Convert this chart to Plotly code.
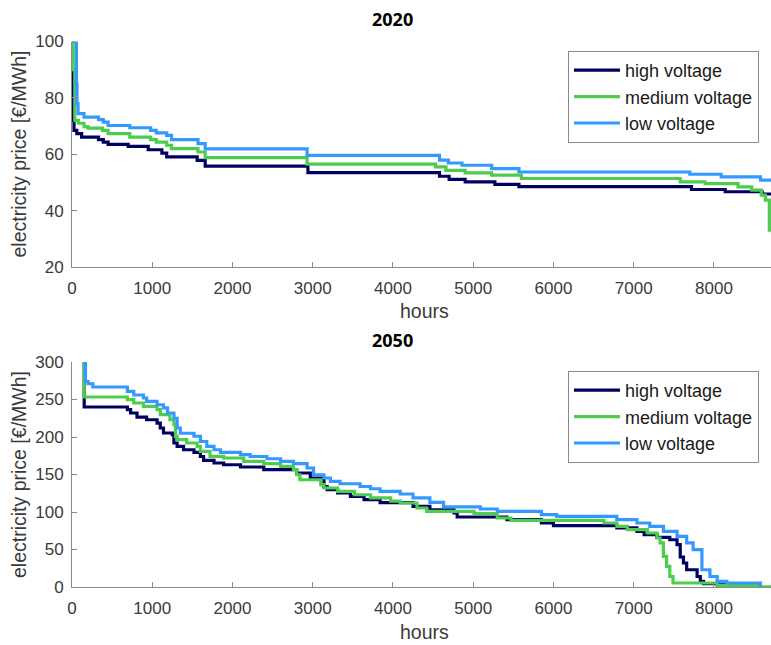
import plotly.graph_objects as go

# ---------------- data (price duration curves, step functions) ----------------
# 2020
hv20_h = [0, 5, 12, 25, 60, 120, 330, 390, 450, 700, 950, 1120, 1180, 1560, 1660, 2940,
          4580, 4700, 4900, 5270, 5570, 7720, 8140, 8600, 8711]
hv20_p = [97, 80, 72, 68.5, 67.3, 66.1, 65.2, 64.3, 63.5, 62.8, 61.6, 60.4, 59.1, 57.8, 55.8, 53.5,
          52.2, 51.1, 50.2, 49.3, 48.5, 47.5, 46.7, 45.9, 45.9]

mv20_h = [0, 15, 35, 80, 150, 200, 380, 450, 720, 980, 1050, 1180, 1240, 1570, 1660, 2930,
          4530, 4660, 4900, 5230, 5600, 7580, 7890, 8300, 8470, 8590, 8640, 8690, 8711]
mv20_p = [100, 90, 72, 71.0, 69.8, 69.3, 68.5, 67.3, 66.1, 65.2, 64.3, 63.2, 62.0, 60.8, 58.8, 56.5,
          55.5, 54.3, 53.4, 52.6, 51.4, 50.2, 49.6, 48.4, 47.3, 45.5, 43.7, 33.1, 33.1]

lv20_h = [0, 55, 62, 75, 150, 330, 390, 450, 720, 980, 1050, 1180, 1240, 1570, 1660, 2930,
          4580, 4690, 4860, 5230, 5570, 7700, 8090, 8580, 8711]
lv20_p = [100, 85, 78, 74.4, 73.2, 72.3, 71.4, 70.2, 69.4, 68.5, 67.6, 66.7, 65.2, 63.8, 61.9, 59.6,
          57.9, 56.9, 56.1, 54.9, 53.7, 52.9, 52.0, 50.8, 50.8]

# 2050
hv50_h = [150, 152, 690, 730, 810, 930, 1060, 1100, 1140, 1250, 1270, 1310, 1390, 1520, 1600, 1640,
          1770, 1890, 2100, 2390, 2800, 2970, 3140, 3180, 3310, 3470, 3640, 3840, 4250, 4460, 4760,
          4800, 5420, 5850, 6000, 6790, 7040, 7130, 7290, 7450, 7540, 7580, 7620, 7660, 7790, 7830,
          7870, 8040, 8420]
hv50_p = [300, 240, 236.4, 232, 226.6, 223, 218.6, 212, 205.3, 203, 192, 187.5, 183, 179.5, 174, 168.8,
          165.3, 163, 160, 156.4, 152, 145.3, 134, 129.7, 125.3, 120.8, 116.4, 112.5, 107.5, 103, 98.7,
          93.3, 89.7, 85.3, 81.7, 78.7, 74.1, 69.7, 66.1, 63, 56.4, 40, 32, 23, 14, 7.5,
          4.4, 3, 3]

mv50_h = [150, 152, 690, 770, 890, 1060, 1100, 1220, 1270, 1290, 1310, 1430, 1560, 1600, 1720, 1890,
          2140, 2390, 2600, 2760, 2800, 2840, 3100, 3140, 3310, 3520, 3720, 3970, 4090, 4300, 4420,
          5010, 5300, 5470, 6630, 6790, 6920, 7170, 7290, 7330, 7370, 7410, 7450, 7490, 8040, 8550, 8711]
mv50_p = [300, 253.3, 249.7, 245.3, 240.8, 236.4, 229.7, 223, 216.4, 200.8, 196.4, 192, 187.5, 180.8, 174.1, 172,
          167.5, 164.4, 160.8, 156.4, 149.7, 143, 136.4, 132, 127.5, 123, 118.7, 114.5, 112, 105.3, 100.8,
          97.7, 92, 88.8, 85.3, 80.8, 76.4, 72, 65.3, 58.7, 40.8, 27.5, 14, 5.3, 1.7, 0.3, 0.3]

lv50_h = [150, 168, 200, 260, 690, 770, 890, 930, 1060, 1140, 1190, 1270, 1310, 1350, 1520, 1600,
          1680, 1770, 1850, 2100, 2220, 2430, 2600, 2760, 2930, 3010, 3140, 3220, 3340, 3590, 3720,
          3840, 4090, 4250, 4460, 4630, 5090, 5300, 5850, 6040, 6790, 7040, 7200, 7370, 7540, 7660,
          7740, 7850, 7950, 8040, 8160, 8580, 8590]
lv50_p = [300, 274, 271, 266.7, 260.8, 256, 252, 247.5, 243, 238.7, 232, 225, 212, 205, 201, 194,
          187.5, 183, 179.5, 176.4, 174, 171, 167.5, 164.4, 158.7, 149.7, 145.3, 140.8, 137.7, 134, 131,
          127.5, 124, 118.7, 112.8, 106.7, 104, 100.8, 96.4, 94.1, 89.7, 85.3, 80.8, 74.1, 67.5, 58.7,
          49.7, 23, 14, 7.5, 5.3, 0.8, 0.8]

names = ["high voltage", "medium voltage", "low voltage"]
colors = ["#00005f", "#4dcc4d", "#3399ff"]

x_ticks = [0, 1000, 2000, 3000, 4000, 5000, 6000, 7000, 8000]
y_ticks_top = [20, 40, 60, 80, 100]
y_ticks_bot = [0, 50, 100, 150, 200, 250, 300]

# ---------------- figure ----------------
W, H = 771, 645
L = 72
PW = W - L

def px_x(p):
    return (p - L) / PW

def px_y(p):
    return 1 - p / H

fig = go.Figure()
for (hx, py), nm, c in zip([(hv20_h, hv20_p), (mv20_h, mv20_p), (lv20_h, lv20_p)], names, colors):
    fig.add_trace(go.Scatter(x=hx, y=py, mode="lines", line=dict(color=c, width=3.2, shape="hv"),
                             name=nm, xaxis="x", yaxis="y", legend="legend"))
for (hx, py), nm, c in zip([(hv50_h, hv50_p), (mv50_h, mv50_p), (lv50_h, lv50_p)], names, colors):
    fig.add_trace(go.Scatter(x=hx, y=py, mode="lines", line=dict(color=c, width=3.2, shape="hv"),
                             name=nm, xaxis="x2", yaxis="y2", legend="legend2"))

tick_font = dict(family="Liberation Sans, Arial, sans-serif", size=17, color="#3a3a3a")
axis_common = dict(showline=True, linecolor="#8a8a8a", linewidth=1, ticks="inside", ticklen=5,
                   tickcolor="#8a8a8a", tickwidth=1, showgrid=False, zeroline=False,
                   tickfont=tick_font, mirror=False, fixedrange=True, automargin=False)

leg_font = dict(family="Liberation Sans, Arial, sans-serif", size=18, color="#1a1a1a")

fig.update_layout(
    width=W, height=H,
    margin=dict(l=L, r=0, t=0, b=0, autoexpand=False),
    paper_bgcolor="white", plot_bgcolor="white",
    xaxis=dict(domain=[0, 1], range=[0, 8711], tickvals=x_ticks, anchor="y",
               ticklabelstandoff=6, **axis_common),
    yaxis=dict(domain=[px_y(267), px_y(41.5)], range=[20, 100], tickvals=y_ticks_top, anchor="x",
               ticklabelstandoff=4, **axis_common),
    xaxis2=dict(domain=[0, 1], range=[0, 8711], tickvals=x_ticks, anchor="y2",
                ticklabelstandoff=6, **axis_common),
    yaxis2=dict(domain=[px_y(587), px_y(362)], range=[0, 300], tickvals=y_ticks_bot, anchor="x2",
                ticklabelstandoff=4, **axis_common),
    legend=dict(x=px_x(568), y=px_y(51), xanchor="left", yanchor="top", bordercolor="#8a8a8a",
                borderwidth=1, bgcolor="white", itemwidth=46, font=leg_font, tracegroupgap=0),
    legend2=dict(x=px_x(568), y=px_y(371), xanchor="left", yanchor="top", bordercolor="#8a8a8a",
                 borderwidth=1, bgcolor="white", itemwidth=46, font=leg_font, tracegroupgap=0),
    showlegend=True,
)

label_font = dict(family="Liberation Sans, Arial, sans-serif", size=19.5, color="#3a3a3a")
title_font = dict(family="Open Sans, sans-serif", size=18, color="black")
ann = [
    dict(text="<b>2020</b>", x=px_x(392.5), y=px_y(18.5), font=title_font),
    dict(text="<b>2050</b>", x=px_x(392.5), y=px_y(340), font=title_font),
    dict(text="hours", x=px_x(424), y=px_y(311), font=label_font),
    dict(text="hours", x=px_x(424), y=px_y(632), font=label_font),
    dict(text="electricity price [€/MWh]", x=px_x(18.5), y=px_y(154), font=label_font, textangle=-90),
    dict(text="electricity price [€/MWh]", x=px_x(18.5), y=px_y(474.5), font=label_font, textangle=-90),
]
for a in ann:
    fig.add_annotation(xref="paper", yref="paper", showarrow=False, xanchor="center", yanchor="middle", **a)

fig.write_html("out.html")
